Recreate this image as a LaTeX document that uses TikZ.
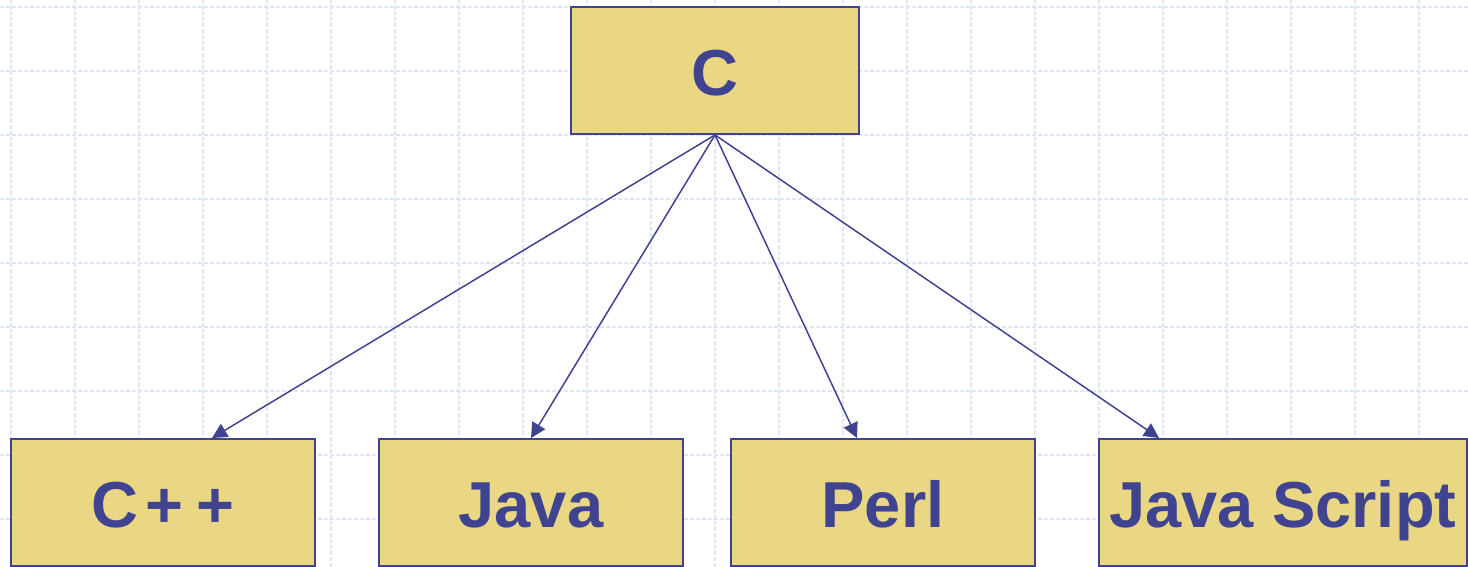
\documentclass[tikz,border=0pt]{standalone}
\usepackage{fontspec}
\setmainfont{Liberation Sans}
\usetikzlibrary{arrows.meta}
\definecolor{langfill}{RGB}{234,215,132}
\definecolor{langblue}{RGB}{64,68,144}
\definecolor{gridblue}{RGB}{222,228,252}

\begin{document}
\begin{tikzpicture}[x=0.02cm, y=0.02cm, >={Triangle[length=0.3cm, width=0.3cm]},
  lang/.style={draw=langblue, line width=1.1pt, fill=langfill, text=langblue, inner sep=0pt,
    minimum width=6.08cm, minimum height=2.54cm, text height=1.2cm, text depth=0.18cm,
    font=\fontsize{37}{40}\selectfont\bfseries},
  gridline/.style={gridblue, line width=0.7pt, dash pattern=on 0.08cm off 0.04cm},
  link/.style={->, draw=langblue, fill=langblue, line width=0.85pt}]
\useasboundingbox (0,0) rectangle (1468,567);
\foreach \gx in {11,75,...,1467} \draw[gridline] (\gx,0) -- (\gx,567);
\foreach \gy in {48,112,...,560} \draw[gridline] (0,\gy) -- (1468,\gy);
\node[lang, minimum width=5.76cm] (c) at (715,496.5) {C};
\node[lang] (cpp) at (163,64.5) {C\hspace{0.1em}+\hspace{0.2em}+};
\node[lang] (java) at (531,64.5) {Java};
\node[lang] (perl) at (883,64.5) {Perl};
\node[lang, minimum width=7.36cm] (js) at (1283,64.5) {Java Script};
\draw[link] (c.south) -- ([xshift=0.98cm]cpp.north);
\draw[link] (c.south) -- (java.north);
\draw[link] (c.south) -- ([xshift=-0.52cm]perl.north);
\draw[link] (c.south) -- ([xshift=1.22cm]js.north west);
\end{tikzpicture}
\end{document}
